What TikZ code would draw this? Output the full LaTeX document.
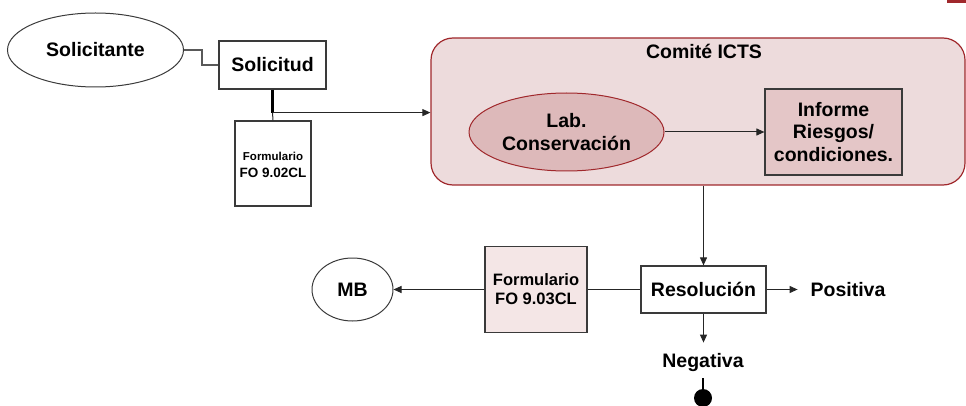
\documentclass[tikz,border=0pt]{standalone}
\usepackage{fontspec}
\setmainfont{Liberation Sans}
\usetikzlibrary{arrows.meta,shapes.geometric}
\definecolor{cred}{HTML}{A0282C}
\definecolor{cfill}{HTML}{EDDBDC}
\definecolor{labfill}{HTML}{DDB9BA}
\definecolor{infill}{HTML}{E4C6C7}
\definecolor{formfill}{HTML}{F4E6E6}
\definecolor{bord}{HTML}{3A3A3A}
\begin{document}
\begin{tikzpicture}[x=1pt,y=-1pt,
  big/.style={font=\fontsize{19.5}{22.5}\selectfont\bfseries, align=center},
  ell/.style={draw=bord, line width=1pt, ellipse, inner sep=0pt, big},
  boxw/.style={draw=bord, line width=1.2pt, rectangle, inner sep=0pt, big},
  conn/.style={draw=black!85, line width=1pt},
  arr/.style={conn, -{Triangle[length=8pt,width=7pt]}}
]
\useasboundingbox (0,0) rectangle (966,406);
\fill[cred] (947,0) rectangle (966,3);

% Comite group
\node[draw=cred, line width=1.2pt, fill=cfill, rounded corners=22pt, rectangle,
      minimum width=534pt, minimum height=147pt] (comite) at (698,111.5) {};
\node[big] (comtxt) at (704,51) {Comité ICTS};
\node[ell, draw=cred, fill=labfill, minimum width=195pt, minimum height=78pt] (lab) at (566.5,132) {Lab.\\Conservación};
\node[boxw, fill=infill, minimum width=137pt, minimum height=86pt] (inf) at (833.5,132) {Informe\\Riesgos/\\condiciones.};

% left part
\node[ell, minimum width=176pt, minimum height=74pt] (solte) at (95.5,50) {Solicitante};
\node[boxw, minimum width=107pt, minimum height=48pt] (solt) at (272.5,65) {Solicitud};
\node[boxw, minimum width=76pt, minimum height=85pt] (form1) at (273,163.5) {};
\node[font=\fontsize{11.5}{13}\selectfont\bfseries, inner sep=0pt] (f1a) at (273,156) {Formulario};
\node[font=\fontsize{13.5}{15}\selectfont\bfseries, inner sep=0pt] (f1b) at (273,172.5) {FO 9.02CL};

% bottom part
\node[boxw, minimum width=125pt, minimum height=47pt] (res) at (703.5,289.5) {Resolución};
\node[big] (pos) at (848,290) {Positiva};
\node[boxw, fill=formfill, minimum width=102pt, minimum height=86pt,
      font=\fontsize{16.5}{19}\selectfont\bfseries] (form2) at (536,289.5) {Formulario\\FO 9.03CL};
\node[ell, minimum width=81pt, minimum height=63pt] (mb) at (352.5,289.5) {MB};
\node[big] (neg) at (703,362) {Negativa};
\fill[black] (703,398) circle (9pt) coordinate (dot);

% connectors
\draw[draw=black!65, line width=1.2pt] (solte.east) -- ++(18,0) |- (solt.west);
\draw[line width=2.6pt] (solt.south) -- ++(0,23) coordinate (j);
\draw[conn] (j) -- (form1.north);
\draw[arr] (j) -- (j -| comite.west);
\draw[arr] (lab.east) -- (inf.west);
\draw[arr] (comite.south -| res.north) -- (res.north);
\draw[arr] (res.east) -- ++(31,0) coordinate (pe);
\draw[arr] (res.south) -- ++(0,29);
\draw[conn] (res.west) -- (form2.east);
\draw[arr] (form2.west) -- (form2.west -| mb.east);
\draw[line width=2.4pt] (703,378) -- (703,392);
\end{tikzpicture}
\end{document}
